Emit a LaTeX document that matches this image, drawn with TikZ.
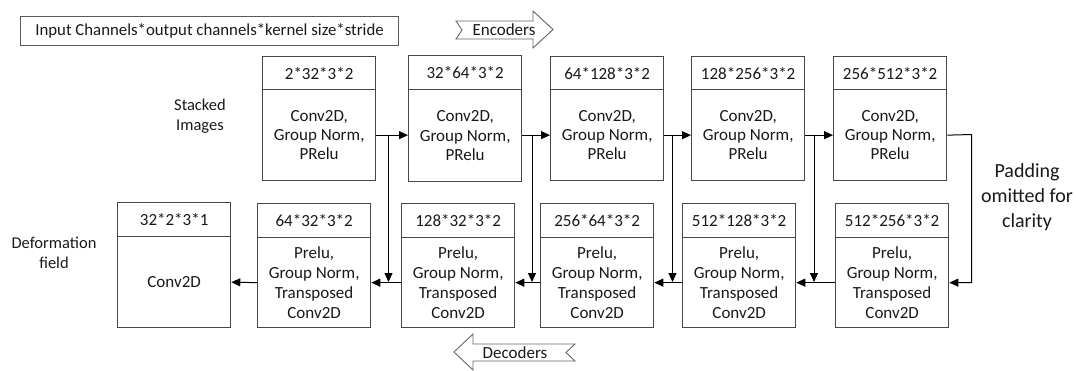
\documentclass[tikz,border=0pt]{standalone}
\usepackage{fontspec}
\setmainfont{Carlito}
\usetikzlibrary{arrows.meta}
\begin{document}
\begin{tikzpicture}[x=1pt,y=-1pt,
  every node/.style={text=black!90},
  boxline/.style={draw=black!72, line width=1.3pt},
  hdr/.style={boxline, anchor=north west, minimum width=113pt,
    minimum height=33pt, inner sep=0pt, font=\fontsize{17}{19}\selectfont},
  encbody/.style={boxline, anchor=north west, minimum width=113pt,
    minimum height=91pt, inner sep=0pt, align=center,
    font=\fontsize{17}{19.2}\selectfont},
  decbody/.style={encbody, minimum height=90pt, font=\fontsize{17}{20}\selectfont},
  lbl/.style={align=center, inner sep=0pt, font=\fontsize{16.5}{20}\selectfont},
  conn/.style={draw=black, line width=1pt},
  arr/.style={conn, -{Triangle[length=9pt,width=8pt]}},
  banner/.style={draw=black!60, line width=0.9pt, fill=white, line join=miter}
]
\useasboundingbox (0,0) rectangle (1076,370);

% legend for the numbers in each header
\node[boxline, draw=black!65, line width=1.1pt, anchor=north west,
  minimum width=378pt, minimum height=29pt, inner sep=0pt,
  font=\fontsize{16.8}{19}\selectfont] (legend) at (20,16)
  {Input Channels*output channels*kernel size*stride};

% direction banners
\draw[banner] (456,21) -- (462,30) -- (456,39) -- (533,39) -- (533,48)
  -- (553,29.5) -- (533,11) -- (533,21) -- cycle;
\node[font=\fontsize{17}{19}\selectfont] (enc) at (504,30) {Encoders};
\draw[banner] (454,352) -- (473,334) -- (473,344) -- (575,344) -- (566,352.5)
  -- (575,361) -- (473,361) -- (473,370) -- cycle;
\node[font=\fontsize{17}{19}\selectfont] (dec) at (515,353) {Decoders};

% side labels
\node[lbl] (inp) at (200,116) {Stacked\\Images};
\node[lbl] (outp) at (54,253) {Deformation\\field};
\node[align=center, inner sep=0pt, font=\fontsize{20}{25}\selectfont]
  (pad) at (1027,197) {Padding\\omitted for\\clarity};

% encoder blocks
\node[hdr] (e1h) at (262,56) {2*32*3*2};
\node[encbody] (e1b) at (262,89) {Conv2D,\\Group Norm,\\PRelu};
\node[hdr, minimum height=34pt] (e2h) at (408,55) {32*64*3*2};
\node[encbody, minimum height=92pt] (e2b) at (408,89) {Conv2D,\\Group Norm,\\PRelu};
\node[hdr] (e3h) at (550,56) {64*128*3*2};
\node[encbody] (e3b) at (550,89) {Conv2D,\\Group Norm,\\PRelu};
\node[hdr] (e4h) at (691,56) {128*256*3*2};
\node[encbody] (e4b) at (691,89) {Conv2D,\\Group Norm,\\PRelu};
\node[hdr] (e5h) at (833,56) {256*512*3*2};
\node[encbody] (e5b) at (833,89) {Conv2D,\\Group Norm,\\PRelu};

% decoder blocks
\node[hdr, minimum height=34pt] (fh) at (117,202) {32*2*3*1};
\node[decbody, minimum height=91pt] (fb) at (117,236) {Conv2D};
\node[hdr, minimum height=34pt] (d1h) at (257,203) {64*32*3*2};
\node[decbody] (d1b) at (257,237) {Prelu,\\Group Norm,\\Transposed\\Conv2D};
\node[hdr, minimum height=34pt] (d2h) at (401,203) {128*32*3*2};
\node[decbody] (d2b) at (401,237) {Prelu,\\Group Norm,\\Transposed\\Conv2D};
\node[hdr, minimum height=34pt] (d3h) at (540,203) {256*64*3*2};
\node[decbody] (d3b) at (540,237) {Prelu,\\Group Norm,\\Transposed\\Conv2D};
\node[hdr, minimum height=34pt] (d4h) at (682,203) {512*128*3*2};
\node[decbody] (d4b) at (682,237) {Prelu,\\Group Norm,\\Transposed\\Conv2D};
\node[hdr, minimum height=34pt] (d5h) at (835,203) {512*256*3*2};
\node[decbody] (d5b) at (835,237) {Prelu,\\Group Norm,\\Transposed\\Conv2D};

% encoder chain
\draw[arr] (e1b.east) -- (e2b.west |- e1b.east);
\draw[arr] (e2b.east |- e3b.west) -- (e3b.west);
\draw[arr] (e3b.east) -- (e4b.west);
\draw[arr] (e4b.east) -- (e5b.west);

% skip connections
\coordinate (s1) at (388.5,134.5); \coordinate (t1) at (388.5,282);
\coordinate (s2) at (532,134.5);   \coordinate (t2) at (532,282);
\coordinate (s3) at (672.5,134.5); \coordinate (t3) at (672.5,282);
\coordinate (s4) at (814,134.5);   \coordinate (t4) at (814,282);
\draw[arr] (s1) -- (t1);
\draw[arr] (s2) -- (t2);
\draw[arr] (s3) -- (t3);
\draw[arr] (s4) -- (t4);

% bottleneck turn
\coordinate (r1) at (971.5,134.5);
\draw[arr] (e5b.east) -- (r1) |- (d5b.east);

% decoder chain
\draw[arr] (d5b.west) -- (d4b.east);
\draw[arr] (d4b.west) -- (d3b.east);
\draw[arr] (d3b.west) -- (d2b.east);
\draw[arr] (d2b.west) -- (d1b.east);
\draw[arr] (d1b.west) -- (fb.east);
\end{tikzpicture}
\end{document}
